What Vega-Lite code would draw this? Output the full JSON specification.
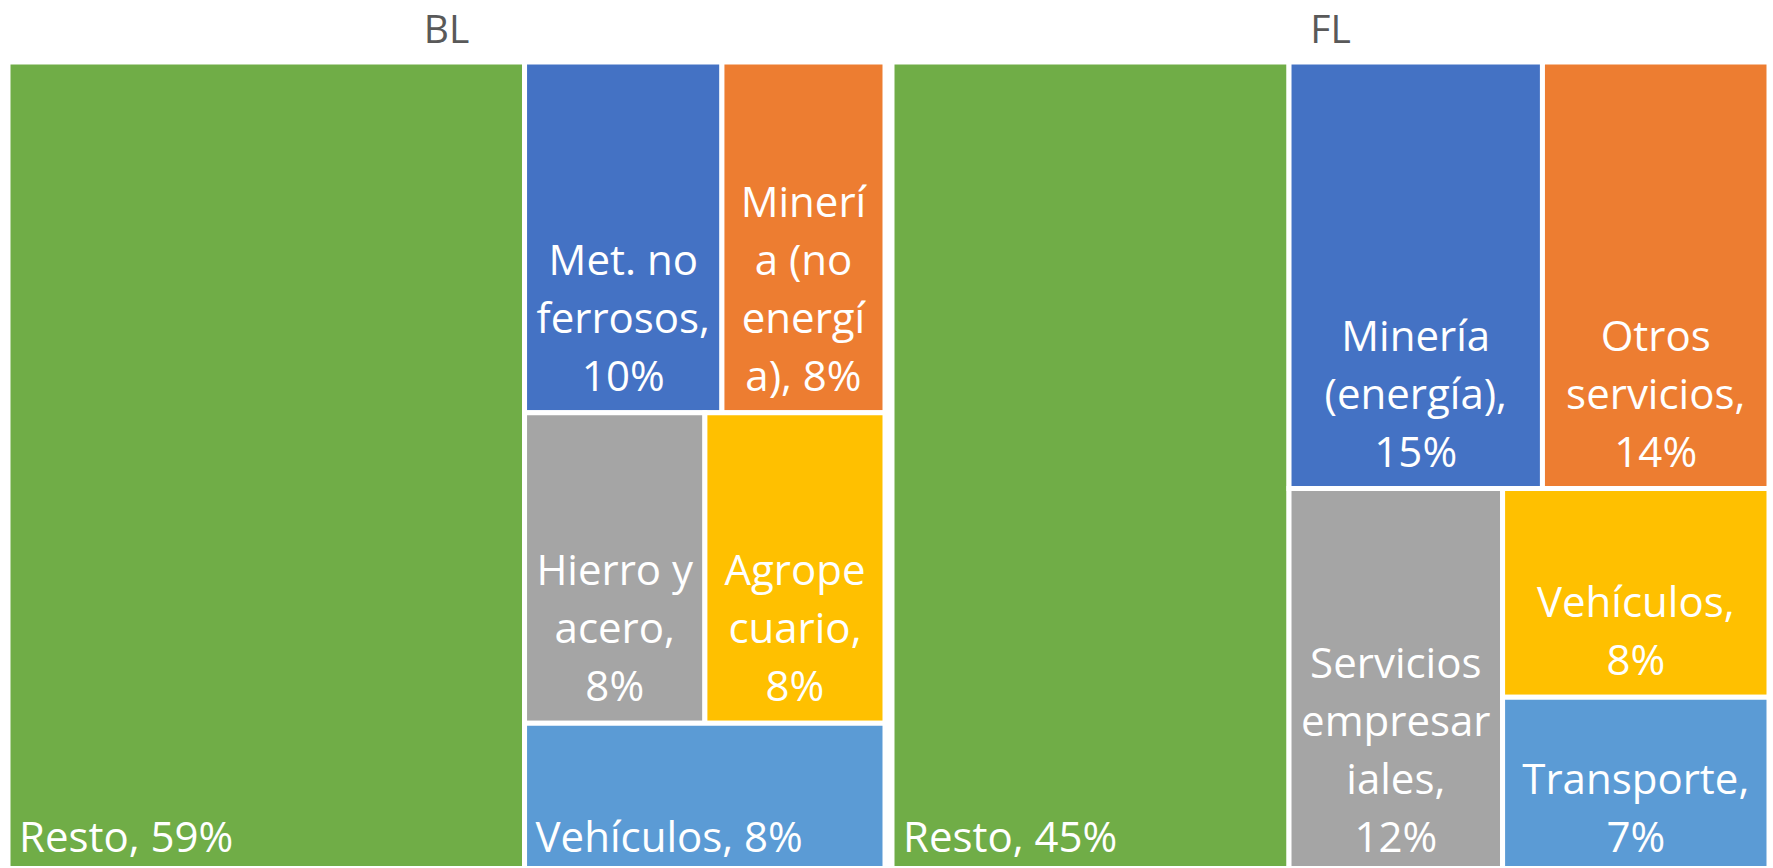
{
  "$schema": "https://vega.github.io/schema/vega-lite/v6.json",
  "padding": {"left": 8, "top": 12, "right": 0, "bottom": 0},
  "background": "white",
  "data": {"values": [
    {"panel": "BL", "label": "Resto, 59%", "value": 58.9, "k": 6, "l1": "A", "l2": "A", "l3": "A", "l4": "A"},
    {"panel": "BL", "label": "Met. no\nferrosos,\n10%", "value": 9.72, "k": 1, "l1": "B", "l2": "B1", "l3": "B1a", "l4": "B1a"},
    {"panel": "BL", "label": "Minerí\na (no\nenergí\na), 8%", "value": 8.03, "k": 2, "l1": "B", "l2": "B1", "l3": "B1b", "l4": "B1b"},
    {"panel": "BL", "label": "Hierro y\nacero,\n8%", "value": 7.86, "k": 3, "l1": "B", "l2": "B2", "l3": "B2a", "l4": "B2a"},
    {"panel": "BL", "label": "Agrope\ncuario,\n8%", "value": 7.85, "k": 4, "l1": "B", "l2": "B2", "l3": "B2b", "l4": "B2b"},
    {"panel": "BL", "label": "Vehículos, 8%", "value": 7.64, "k": 5, "l1": "B", "l2": "B3", "l3": "B3a", "l4": "B3a"},
    {"panel": "FL", "label": "Resto, 45%", "value": 45.27, "k": 6, "l1": "A", "l2": "A", "l3": "A", "l4": "A"},
    {"panel": "FL", "label": "Minería\n(energía),\n15%", "value": 15.18, "k": 1, "l1": "B", "l2": "B1", "l3": "B1a", "l4": "B1a"},
    {"panel": "FL", "label": "Otros\nservicios,\n14%", "value": 13.57, "k": 2, "l1": "B", "l2": "B1", "l3": "B1b", "l4": "B1b"},
    {"panel": "FL", "label": "Servicios\nempresar\niales,\n12%", "value": 11.56, "k": 3, "l1": "B", "l2": "B2", "l3": "B2a", "l4": "B2a"},
    {"panel": "FL", "label": "Vehículos,\n8%", "value": 7.8, "k": 4, "l1": "B", "l2": "B2", "l3": "B2b", "l4": "B2b1"},
    {"panel": "FL", "label": "Transporte,\n7%", "value": 6.62, "k": 5, "l1": "B", "l2": "B2", "l3": "B2b", "l4": "B2b2"}
  ]},
  "transform": [
    {"window": [{"op": "sum", "field": "value", "as": "cum"}], "groupby": ["panel"], "sort": [{"field": "l4", "order": "ascending"}], "frame": [null, 0]},
    {"calculate": "datum.cum - datum.value", "as": "s"},
    {"joinaggregate": [{"op": "sum", "field": "value", "as": "T"}], "groupby": ["panel"]},
    {"joinaggregate": [{"op": "sum", "field": "value", "as": "S1"}, {"op": "min", "field": "s", "as": "st1"}], "groupby": ["panel", "l1"]},
    {"joinaggregate": [{"op": "sum", "field": "value", "as": "S2"}, {"op": "min", "field": "s", "as": "st2"}], "groupby": ["panel", "l1", "l2"]},
    {"joinaggregate": [{"op": "sum", "field": "value", "as": "S3"}, {"op": "min", "field": "s", "as": "st3"}], "groupby": ["panel", "l1", "l2", "l3"]},
    {"calculate": "datum.st1 / datum.T", "as": "ax0"},
    {"calculate": "(datum.st1 + datum.S1) / datum.T", "as": "ax1"},
    {"calculate": "(datum.st2 - datum.st1) / datum.S1", "as": "by0"},
    {"calculate": "(datum.st2 - datum.st1 + datum.S2) / datum.S1", "as": "by1"},
    {"calculate": "datum.ax0 + (datum.ax1 - datum.ax0) * (datum.st3 - datum.st2) / datum.S2", "as": "cx0"},
    {"calculate": "datum.ax0 + (datum.ax1 - datum.ax0) * (datum.st3 - datum.st2 + datum.S3) / datum.S2", "as": "cx1"},
    {"calculate": "datum.by0 + (datum.by1 - datum.by0) * (datum.s - datum.st3) / datum.S3", "as": "dy0"},
    {"calculate": "datum.by0 + (datum.by1 - datum.by0) * (datum.s - datum.st3 + datum.value) / datum.S3", "as": "dy1"},
    {"calculate": "(datum.cx0 + datum.cx1) / 2", "as": "xm"},
    {"calculate": "datum.dy1 - (length(split(datum.label, '\\n')) - 1) * 58 / 812.12", "as": "yt"}
  ],
  "facet": {
    "column": {
      "field": "panel", "type": "nominal", "sort": ["BL", "FL"], "title": null,
      "header": {"labelFont": "Open Sans", "labelFontSize": 39, "labelColor": "#595959", "labelPadding": 11}
    }
  },
  "spacing": 7,
  "spec": {
    "width": 877,
    "height": 804,
    "layer": [
      {
        "mark": {"type": "rect", "stroke": "white", "strokeWidth": 5, "clip": true},
        "encoding": {
          "x": {"field": "cx0", "type": "quantitative", "scale": {"domain": [0, 1], "nice": false, "zero": false}, "axis": null},
          "x2": {"field": "cx1"},
          "y": {"field": "dy0", "type": "quantitative", "scale": {"domain": [0, 0.99], "reverse": true, "nice": false, "zero": false}, "axis": null},
          "y2": {"field": "dy1"},
          "color": {"field": "k", "type": "ordinal", "scale": {"domain": [1, 2, 3, 4, 5, 6], "range": ["#4472C4", "#ED7D31", "#A5A5A5", "#FFC000", "#5B9BD5", "#70AD47"]}, "legend": null}
        }
      },
      {
        "transform": [{"filter": "indexof(datum.label, '\\n') >= 0"}],
        "mark": {"type": "text", "align": "center", "baseline": "bottom", "lineBreak": "\n", "lineHeight": 58, "font": "Open Sans", "fontSize": 42, "color": "white", "dy": -13},
        "encoding": {
          "x": {"field": "xm", "type": "quantitative"},
          "y": {"field": "yt", "type": "quantitative"},
          "text": {"field": "label"}
        }
      },
      {
        "transform": [{"filter": "indexof(datum.label, '\\n') < 0"}],
        "mark": {"type": "text", "align": "left", "baseline": "bottom", "font": "Open Sans", "fontSize": 42, "color": "white", "dx": 11, "dy": -13},
        "encoding": {
          "x": {"field": "cx0", "type": "quantitative"},
          "y": {"field": "yt", "type": "quantitative"},
          "text": {"field": "label"}
        }
      }
    ]
  },
  "config": {"view": {"stroke": null}}
}
